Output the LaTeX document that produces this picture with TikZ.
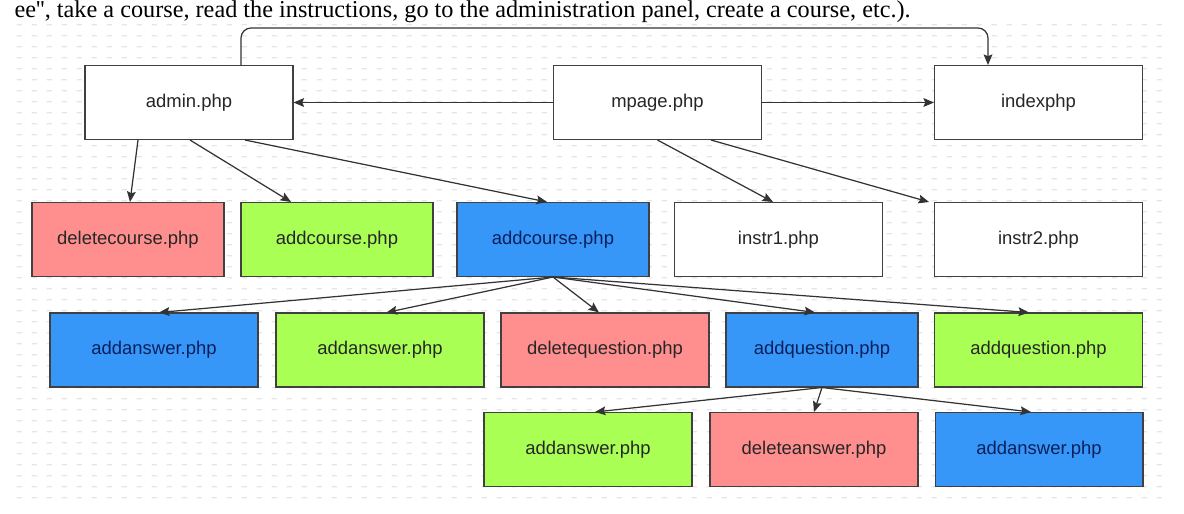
\documentclass[tikz,border=0pt]{standalone}
\usepackage{fontspec}
\setmainfont{Liberation Sans}
\newfontfamily\serifface{Liberation Serif}
\usetikzlibrary{arrows.meta,patterns}

\definecolor{delred}{HTML}{FF8F8F}
\definecolor{addgreen}{HTML}{AAFF55}
\definecolor{addblue}{HTML}{3697F8}
\definecolor{bluetext}{HTML}{0A1F5C}

\pgfdeclarepatternformonly{bgdash}{\pgfpointorigin}{\pgfpoint{8.5pt}{6.2pt}}{\pgfpoint{8.5pt}{6.2pt}}{%
  \pgfsetlinewidth{0.7pt}%
  \pgfpathmoveto{\pgfpoint{1pt}{3pt}}%
  \pgfpathlineto{\pgfpoint{4pt}{3pt}}%
  \pgfusepath{stroke}}

\tikzset{
  page/.style={draw=black!75, line width=0.6pt, minimum height=1.48cm,
    minimum width=4.16cm, font=\fontsize{10.5}{12}\selectfont, text=black!85},
  narrow/.style={minimum width=3.84cm},
  plain/.style={page, fill=white},
  redpage/.style={page, fill=delred},
  greenpage/.style={page, fill=addgreen},
  bluepage/.style={page, fill=addblue, text=bluetext},
  link/.style={draw=black!80, line width=0.7pt, -{Stealth[length=6pt,width=5pt,inset=1pt]}}
}

\begin{document}
\begin{tikzpicture}[x=0.02cm, y=-0.02cm]
  \useasboundingbox (0,0) rectangle (1184,514);
  % dotted backdrop
  \fill[pattern=bgdash, pattern color=black!10] (8,15) rectangle (1170,505);
  % line of the page text above
  \node[anchor=base east, inner sep=0pt, font=\serifface\fontsize{13.8}{15}\selectfont]
    (pagetext) at (911,17) {ee'', take a course, read the instructions, go to the administration panel, create a course, etc.).};

  % top row
  \node[plain] (admin) at (189,102.5) {admin.php};
  \node[plain] (mpage) at (657.5,102.5) {mpage.php};
  \node[plain] (index) at (1038.5,102.5) {indexphp};

  % second row
  \node[redpage, narrow] (delcourse) at (128,239.5) {deletecourse.php};
  \node[greenpage, narrow] (addcoursegr) at (337,239.5) {addcourse.php};
  \node[bluepage, narrow] (addcoursebl) at (553,239.5) {addcourse.php};
  \node[plain] (instra) at (778.5,239.5) {instr1.php};
  \node[plain] (instrb) at (1038.5,239.5) {instr2.php};

  % third row
  \node[bluepage] (addansbl) at (154,350) {addanswer.php};
  \node[greenpage] (addansgr) at (380,350) {addanswer.php};
  \node[redpage] (delquest) at (605,350) {deletequestion.php};
  \node[bluepage, narrow] (addqbl) at (822,350) {addquestion.php};
  \node[greenpage] (addqgr) at (1038.5,350) {addquestion.php};

  % fourth row
  \node[greenpage] (subansgr) at (588,449.5) {addanswer.php};
  \node[redpage] (delans) at (814,449.5) {deleteanswer.php};
  \node[bluepage] (subansbl) at (1039,449.5) {addanswer.php};

  % links from the top row
  \coordinate (bend) at (988,28);
  \draw[link, rounded corners=0.2cm] ([xshift=1.04cm]admin.north) |- (bend) -- ([xshift=-1.01cm]index.north);
  \draw[link] (mpage.west) -- (admin.east);
  \draw[link] (mpage.east) -- (index.west);
  \draw[link] ([xshift=-1.02cm]admin.south) -- ([xshift=0.04cm]delcourse.north);
  \draw[link] ([xshift=0.02cm]admin.south) -- ([xshift=-0.92cm]addcoursegr.north);
  \draw[link] ([xshift=1.12cm]admin.south) -- ([xshift=-0.12cm]addcoursebl.north);
  \draw[link] (mpage.south) -- ([xshift=-0.11cm]instra.north);
  \draw[link] ([xshift=1.07cm]mpage.south) -- ([xshift=-0.1cm]instrb.north west);

  % links from addcourse
  \draw[link] (addcoursebl.south) -- ([xshift=0.1cm]addansbl.north);
  \draw[link] (addcoursebl.south) -- ([xshift=0.13cm]addansgr.north);
  \draw[link] (addcoursebl.south) -- ([xshift=-0.12cm]delquest.north);
  \draw[link] (addcoursebl.south) -- ([xshift=-0.14cm]addqbl.north);
  \draw[link] (addcoursebl.south) -- ([xshift=-0.19cm]addqgr.north);

  % links from addquestion
  \draw[link] (addqbl.south) -- ([xshift=0.14cm]subansgr.north);
  \draw[link] (addqbl.south) -- (delans.north);
  \draw[link] (addqbl.south) -- ([xshift=-0.16cm]subansbl.north);
\end{tikzpicture}
\end{document}
